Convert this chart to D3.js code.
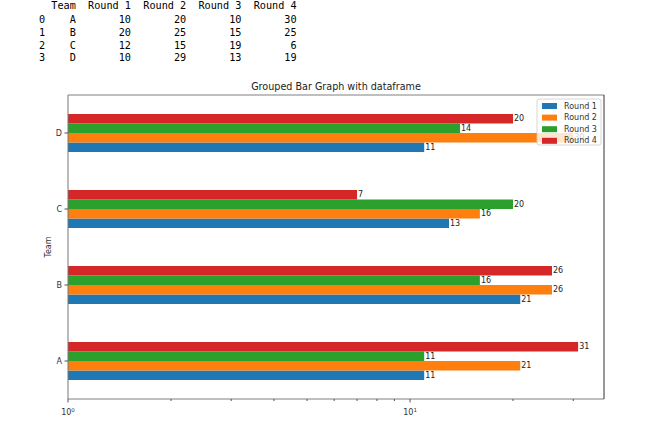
<!DOCTYPE html>
<html>
<head>
<meta charset="utf-8">
<script src="https://cdn.jsdelivr.net/npm/d3@7"></script>
<style>
  body { margin: 0; background: #fff; }
  svg { display: block; }
</style>
</head>
<body>
<main></main>
<script>
(function () {

    // dataframe as printed
    var teams = ["A", "B", "C", "D"],
        rounds = ["Round 1", "Round 2", "Round 3", "Round 4"],
        round1 = [10, 20, 12, 10],
        round2 = [20, 25, 15, 29],
        round3 = [10, 15, 19, 13],
        round4 = [30, 25, 6, 19];

    // bar lengths, as labelled on the plot
    var bar1 = [11, 21, 13, 11],
        bar2 = [21, 26, 16, 30],
        bar3 = [11, 16, 20, 14],
        bar4 = [31, 26, 7, 20];

    var colors = ["#1f77b4", "#ff7f0e", "#2ca02c", "#d62728"],
        xTicks = [1, 10];

    var width = 658,
        height = 426,
        margin = {top: 95, right: 54, bottom: 27, left: 68};

    var svg = d3.select("main")
            .append("svg")
            .attr("width", width)
            .attr("height", height);

    // printed table
    var table = [round1, round2, round3, round4],
        pad = function (s, n) { s = String(s); while (s.length < n) { s = " " + s; } return s; },
        lines = [pad("Team", 6) + rounds.map(function (r) { return pad(r, 9); }).join("")];
    teams.forEach(function (t, i) {
        lines.push(String(i) + pad(t, 5) + table.map(function (col) { return pad(col[i], 9); }).join(""));
    });
    svg.append("g")
        .selectAll("text")
        .data(lines)
        .enter().append("text")
        .attr("x", 39)
        .attr("y", function (d, i) { return i === 0 ? 6 : 20 + (i - 1) * 12.8; })
        .attr("dominant-baseline", "middle")
        .attr("xml:space", "preserve")
        .style("white-space", "pre")
        .style("font-family", "'DejaVu Sans Mono', monospace")
        .style("font-size", "10.2px")
        .attr("fill", "#000")
        .text(function (d) { return d; });

    var x0 = margin.left,
        x1 = width - margin.right,
        y0 = height - margin.bottom,
        y1 = margin.top;

    var x = d3.scaleLog()
            .domain([1, Math.pow(10, 1.567)])
            .range([x0, x1]),
        y = d3.scaleLinear()
            .domain([-0.5, teams.length - 0.5])
            .range([y0, y1]);

    var barH = 0.125,
        series = [bar1, bar2, bar3, bar4];

    var bars = svg.append("g");
    series.forEach(function (vals, k) {
        var g = bars.append("g");
        g.selectAll("rect")
            .data(vals)
            .enter().append("rect")
            .attr("x", x(1))
            .attr("y", function (d, i) { return y(i + (k - 1.5) * barH + barH / 2); })
            .attr("width", function (d) { return x(d) - x(1); })
            .attr("height", y(0) - y(barH))
            .attr("fill", colors[k]);
        g.selectAll("text")
            .data(vals)
            .enter().append("text")
            .attr("x", function (d) { return x(d) + 1; })
            .attr("y", function (d, i) { return y(i + (k - 1.5) * barH); })
            .attr("dominant-baseline", "middle")
            .style("font-family", "'DejaVu Sans', sans-serif")
            .style("font-size", "8px")
            .attr("fill", "#222")
            .text(function (d) { return d; });
    });

    // spines
    var spine = function (a, b, c, d, col, w) {
        svg.append("line")
            .attr("x1", a).attr("y1", b).attr("x2", c).attr("y2", d)
            .attr("stroke", col).attr("stroke-width", w);
    };
    spine(x0, y1, x1, y1, "#aaa", 1.5);
    spine(x0, y0, x1, y0, "#aaa", 1.5);
    spine(x0, y1, x0, y0, "#777", 1);
    spine(x1, y1, x1, y0, "#333", 1);

    // y axis
    var yAxis = svg.append("g");
    teams.forEach(function (t, i) {
        yAxis.append("line")
            .attr("x1", x0 - 3.5).attr("x2", x0)
            .attr("y1", y(i)).attr("y2", y(i))
            .attr("stroke", "#555");
        yAxis.append("text")
            .attr("x", x0 - 6)
            .attr("y", y(i))
            .attr("text-anchor", "end")
            .attr("dominant-baseline", "middle")
            .style("font-family", "'DejaVu Sans', sans-serif")
            .style("font-size", "8px")
            .attr("fill", "#333")
            .text(t);
    });
    svg.append("text")
        .attr("transform", "translate(51," + ((y0 + y1) / 2) + ") rotate(-90)")
        .attr("text-anchor", "middle")
        .style("font-family", "'DejaVu Sans', sans-serif")
        .style("font-size", "8px")
        .attr("fill", "#333")
        .text("Team");

    // x axis (log)
    var minor = x.ticks().filter(function (v) { return xTicks.indexOf(v) < 0 && x(v) <= x1; });
    var xAxis = svg.append("g");
    xAxis.selectAll("line.minor")
        .data(minor)
        .enter().append("line")
        .attr("x1", function (d) { return x(d); })
        .attr("x2", function (d) { return x(d); })
        .attr("y1", y0).attr("y2", y0 + 2)
        .attr("stroke", "#555");
    xAxis.selectAll("line.major")
        .data(xTicks)
        .enter().append("line")
        .attr("x1", function (d) { return x(d); })
        .attr("x2", function (d) { return x(d); })
        .attr("y1", y0).attr("y2", y0 + 3.5)
        .attr("stroke", "#555");
    var lab = xAxis.selectAll("text")
        .data(xTicks)
        .enter().append("text")
        .attr("x", function (d) { return x(d); })
        .attr("y", y0 + 16)
        .attr("text-anchor", "middle")
        .style("font-family", "'DejaVu Sans', sans-serif")
        .style("font-size", "8px")
        .attr("fill", "#333");
    lab.append("tspan").text("10");
    lab.append("tspan")
        .attr("dy", -3.5)
        .style("font-size", "5.5px")
        .text(function (d) { return Math.round(Math.log10(d)); });

    // title
    svg.append("text")
        .attr("x", (x0 + x1) / 2)
        .attr("y", y1 - 5)
        .attr("text-anchor", "middle")
        .style("font-family", "'DejaVu Sans', sans-serif")
        .style("font-size", "9.6px")
        .attr("fill", "#222")
        .text("Grouped Bar Graph with dataframe");

    // legend (semi-transparent, covers the "30" label as in the original)
    var legend = svg.append("g").attr("transform", "translate(537,99)");
    legend.append("rect")
        .attr("width", 64).attr("height", 46)
        .attr("rx", 2)
        .attr("fill", "#fff").attr("fill-opacity", 0.8)
        .attr("stroke", "#ccc").attr("stroke-width", 0.8);
    rounds.forEach(function (r, k) {
        legend.append("rect")
            .attr("x", 5).attr("y", 4 + k * 11.6)
            .attr("width", 15).attr("height", 6)
            .attr("fill", colors[k]);
        legend.append("text")
            .attr("x", 27).attr("y", 7 + k * 11.6)
            .attr("dominant-baseline", "middle")
            .style("font-family", "'DejaVu Sans', sans-serif")
            .style("font-size", "8px")
            .attr("fill", "#333")
            .text(r);
    });

})();
</script>
</body>
</html>
